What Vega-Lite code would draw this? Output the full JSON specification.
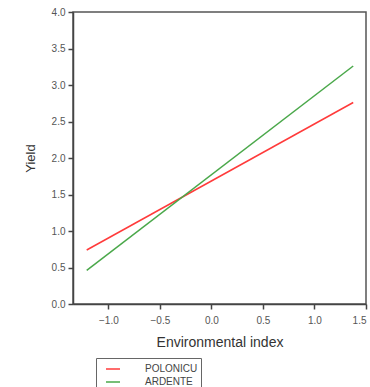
{
  "$schema": "https://vega.github.io/schema/vega-lite/v6.json",
  "autosize": {"type": "none"},
  "padding": {"left": 73, "top": 12, "right": 4, "bottom": 83},
  "width": 293,
  "height": 292,
  "background": "white",
  "config": {
    "font": "Liberation Sans",
    "view": {"stroke": "#555", "strokeWidth": 1.5},
    "axis": {"grid": false, "domainColor": "#444", "domainWidth": 1.5, "tickColor": "#444", "tickWidth": 1.5, "labelColor": "#555", "labelFontSize": 10, "titleColor": "#333", "titleFontWeight": "normal"}
  },
  "data": {"values": [
    {"variety": "POLONICU", "x": -1.21, "y": 0.74},
    {"variety": "POLONICU", "x": 1.376, "y": 2.76},
    {"variety": "ARDENTE", "x": -1.21, "y": 0.46},
    {"variety": "ARDENTE", "x": 1.376, "y": 3.26}
  ]},
  "mark": {"type": "line", "strokeWidth": 1.5},
  "encoding": {
    "x": {"field": "x", "type": "quantitative", "scale": {"domain": [-1.343, 1.5], "nice": false, "zero": false},
      "axis": {"values": [-1.0, -0.5, 0.0, 0.5, 1.0, 1.5], "format": ".1f", "tickSize": 5, "labelPadding": 6, "title": "Environmental index", "titleFontSize": 14, "titlePadding": 10}},
    "y": {"field": "y", "type": "quantitative", "scale": {"domain": [0, 4], "nice": false},
      "axis": {"values": [0, 0.5, 1.0, 1.5, 2.0, 2.5, 3.0, 3.5, 4.0], "format": ".1f", "tickSize": 5, "labelPadding": 3, "title": "Yield", "titleFontSize": 13, "titlePadding": 14}},
    "color": {"field": "variety", "type": "nominal",
      "scale": {"domain": ["POLONICU", "ARDENTE"], "range": ["#ff3b3b", "#4aa84a"]},
      "legend": {"title": null, "orient": "none", "legendX": 23, "legendY": 346, "direction": "vertical", "strokeColor": "#666", "padding": 3, "symbolType": "stroke", "symbolSize": 196, "symbolStrokeWidth": 1.5, "labelFontSize": 10, "labelColor": "#444", "rowPadding": 0, "labelOffset": 24, "symbolOffset": 6}
    }
  }
}
